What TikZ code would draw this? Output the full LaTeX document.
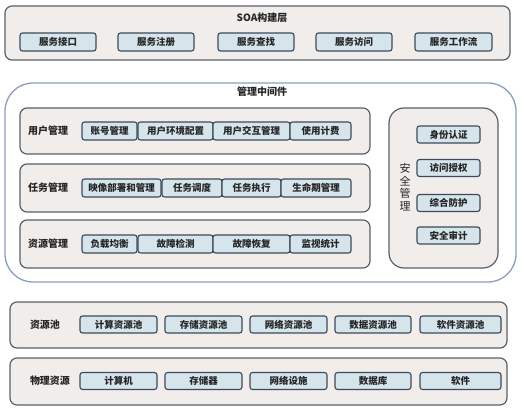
\documentclass[tikz,border=0pt]{standalone}
\usepackage{fontspec}
\newfontfamily\cjk{Noto Sans CJK SC}
\usepackage{tikz}

\definecolor{layerfill}{HTML}{F1EDEB}
\definecolor{layerline}{HTML}{5B6068}
\definecolor{itemfill}{HTML}{D6E4EC}
\definecolor{itemline}{HTML}{3D4A5A}
\definecolor{midline}{HTML}{8C9CC4}
\definecolor{txt}{HTML}{252525}

\tikzset{
  layer/.style={draw=layerline,fill=layerfill,line width=1.2pt,rounded corners=7pt},
  item/.style={draw=itemline,fill=itemfill,line width=1.1pt,rounded corners=2.5pt,
    minimum height=18pt,inner sep=0pt,font=\cjk\bfseries\fontsize{9.5}{10}\selectfont,text=txt},
  title/.style={font=\cjk\bfseries\fontsize{10}{11}\selectfont,text=txt,inner sep=0pt}
}

\begin{document}
\begin{tikzpicture}[x=1pt,y=-1pt]
			\useasboundingbox (0,0) rectangle (525,414);

			% SOA layer
			\draw[layer] (5,6) rectangle (510,60);
			\node[title] (soa) at (262,18) {SOA构建层};
			\node[item,minimum width=76] (svc1) at (58,42) {服务接口};
			\node[item,minimum width=76] (svc2) at (156,42) {服务注册};
			\node[item,minimum width=76] (svc3) at (256,42) {服务查找};
			\node[item,minimum width=76] (svc4) at (354,42) {服务访问};
			\node[item,minimum width=77] (svc5) at (453.5,42) {服务工作流};

			% management middleware
			\draw[draw=midline,fill=white,line width=1.3pt,rounded corners=28pt] (5,83) rectangle (516,282);
			\node[title] (mid) at (262,92) {管理中间件};

			\draw[layer] (20,108) rectangle (370,154);
			\node[title] (user) at (48,131) {用户管理};
			\node[item,minimum width=55] (u1) at (109.5,131) {账号管理};
			\node[item,minimum width=75] (u2) at (175.5,131) {用户环境配置};
			\node[item,minimum width=77] (u3) at (251.5,131) {用户交互管理};
			\node[item,minimum width=61] (u4) at (320.5,131) {使用计费};

			\draw[layer] (20,164) rectangle (370,212);
			\node[title] (task) at (48,188) {任务管理};
			\node[item,minimum width=79] (t1) at (121.5,188) {映像部署和管理};
			\node[item,minimum width=60] (t2) at (192,188) {任务调度};
			\node[item,minimum width=59] (t3) at (251.5,188) {任务执行};
			\node[item,minimum width=70] (t4) at (316,188) {生命期管理};

			\draw[layer] (20,220) rectangle (370,268);
			\node[title] (res) at (48,244) {资源管理};
			\node[item,minimum width=55] (r1) at (109.5,244) {负载均衡};
			\node[item,minimum width=75] (r2) at (175.5,244) {故障检测};
			\node[item,minimum width=77] (r3) at (251.5,244) {故障恢复};
			\node[item,minimum width=61] (r4) at (320.5,244) {监视统计};

			\draw[layer,rounded corners=15pt] (389,108) rectangle (498,268);
			\node[title,font=\cjk\fontsize{11}{12.5}\selectfont,align=center] (sec) at (405,187) {安\\全\\管\\理};
			\node[item,minimum width=63,minimum height=17] (s1) at (448.5,134.5) {身份认证};
			\node[item,minimum width=63,minimum height=17] (s2) at (448.5,168) {访问授权};
			\node[item,minimum width=63,minimum height=17] (s3) at (448.5,203) {综合防护};
			\node[item,minimum width=63,minimum height=17] (s4) at (448.5,235.5) {安全审计};

			% resource pool
			\draw[layer] (10,302) rectangle (507,348);
			\node[title] (pool) at (45,325) {资源池};
			\node[item,minimum width=77,minimum height=17] (p1) at (118.5,324.5) {计算资源池};
			\node[item,minimum width=77,minimum height=17] (p2) at (203.5,324.5) {存储资源池};
			\node[item,minimum width=77,minimum height=17] (p3) at (288.5,324.5) {网络资源池};
			\node[item,minimum width=76,minimum height=17] (p4) at (373,324.5) {数据资源池};
			\node[item,minimum width=81,minimum height=17] (p5) at (460.5,324.5) {软件资源池};

			% physical resources
			\draw[layer] (10,358) rectangle (507,405);
			\node[title] (phys) at (50,381) {物理资源};
			\node[item,minimum width=77,minimum height=17] (h1) at (118.5,381) {计算机};
			\node[item,minimum width=77,minimum height=17] (h2) at (203.5,381) {存储器};
			\node[item,minimum width=77,minimum height=17] (h3) at (288.5,381) {网络设施};
			\node[item,minimum width=76,minimum height=17] (h4) at (373,381) {数据库};
			\node[item,minimum width=81,minimum height=17] (h5) at (460.5,381) {软件};
		\end{tikzpicture}
\end{document}
